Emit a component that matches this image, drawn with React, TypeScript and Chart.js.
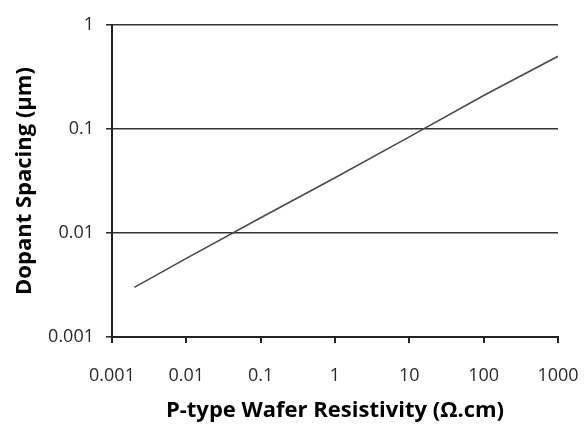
import React, { useEffect, useRef } from "react";
import { Chart, registerables } from "chart.js";

Chart.register(...registerables);

const resistivity = [0.002, 0.01, 0.1, 1, 10, 100, 1000];
const spacing = [0.003, 0.0057, 0.014, 0.034, 0.084, 0.21, 0.5];
const xTicks = [0.001, 0.01, 0.1, 1, 10, 100, 1000];
const yTicks = [0.001, 0.01, 0.1, 1];
const xTitle = "P-type Wafer Resistivity (Ω.cm)";
const yTitle = "Dopant Spacing (μm)";

const FONT = "'Open Sans', 'Liberation Sans', sans-serif";

export default function App() {
  const ref = useRef<HTMLCanvasElement | null>(null);

  useEffect(() => {
    if (!ref.current) return;
    const chart = new Chart(ref.current, {
      type: "line",
      data: {
        datasets: [
          {
            data: resistivity.map((x, i) => ({ x, y: spacing[i] })),
            borderColor: "#4a4a4a",
            borderWidth: 1.6,
            pointRadius: 0,
            fill: false,
            tension: 0,
          },
        ],
      },
      options: {
        animation: false,
        responsive: false,
        events: [],
        layout: { padding: { top: 25, right: 27, left: 0, bottom: 0 } },
        plugins: { legend: { display: false }, tooltip: { enabled: false } },
        scales: {
          x: {
            type: "logarithmic",
            min: 0.001,
            max: 1000,
            afterBuildTicks: (s: any) => {
              s.ticks = xTicks.map((v) => ({ value: v }));
            },
            afterFit: (s: any) => {
              s.height = 430 - 337;
              s.paddingLeft = 0;
              s.paddingRight = 0;
            },
            grid: {
              drawOnChartArea: false,
              drawTicks: true,
              tickLength: 6,
              color: "#222",
              lineWidth: 2,
            },
            border: { display: true, color: "#222", width: 2 },
            ticks: {
              autoSkip: false,
              maxRotation: 0,
              padding: 22,
              color: "#2a2a2a",
              font: { family: FONT, size: 18 },
              callback: (v: any) => String(v),
            },
            title: {
              display: true,
              text: xTitle,
              color: "#000",
              font: { family: FONT, size: 22, weight: "bold" },
              padding: { top: 0, bottom: 6 },
            },
          },
          y: {
            type: "logarithmic",
            min: 0.001,
            max: 1,
            afterBuildTicks: (s: any) => {
              s.ticks = yTicks.map((v) => ({ value: v }));
            },
            afterFit: (s: any) => {
              s.width = 112;
              s.paddingTop = 0;
              s.paddingBottom = 0;
            },
            grid: {
              drawOnChartArea: true,
              drawTicks: true,
              tickLength: 6,
              color: "#333",
              lineWidth: 1.6,
            },
            border: { display: true, color: "#222", width: 2 },
            ticks: {
              autoSkip: false,
              padding: 12,
              color: "#2a2a2a",
              font: { family: FONT, size: 18 },
              callback: (v: any) => String(v),
            },
            title: {
              display: true,
              text: yTitle,
              color: "#000",
              font: { family: FONT, size: 22, weight: "bold" },
              padding: { top: 12, bottom: 0 },
            },
          },
        },
      },
    } as any);
    return () => chart.destroy();
  }, []);

  return (
    <div style={{ position: "fixed", left: 0, top: 0, width: 585, height: 430, background: "#fff" }}>
      <canvas ref={ref} width={585} height={430} style={{ display: "block" }} />
    </div>
  );
}
